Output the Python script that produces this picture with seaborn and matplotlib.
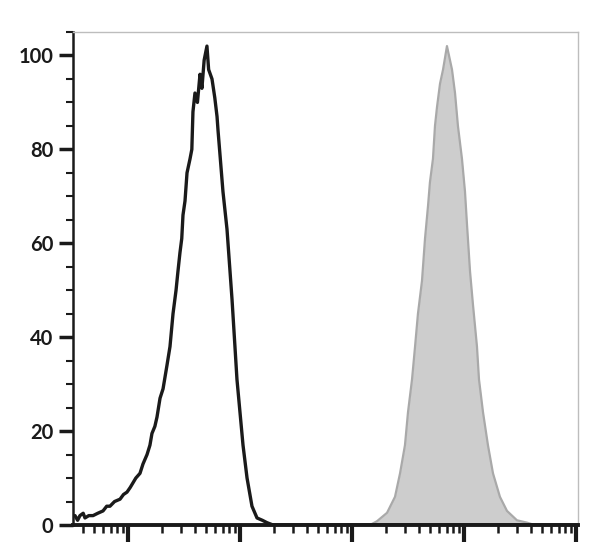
import matplotlib
matplotlib.use("Agg")
import matplotlib.pyplot as plt
import matplotlib.ticker as mticker
import numpy as np
import pandas as pd
import seaborn as sns

# log10 fluorescence positions and % of max
black_log = [0.527, 0.55, 0.571, 0.60, 0.616, 0.65, 0.688, 0.73, 0.777, 0.81,
             0.839, 0.88, 0.929, 0.96, 0.991, 1.02, 1.045, 1.07, 1.107, 1.134,
             1.17, 1.196, 1.214, 1.24, 1.259, 1.286, 1.313, 1.348, 1.375, 1.402,
             1.429, 1.446, 1.464, 1.48, 1.491, 1.509, 1.527, 1.554, 1.57, 1.58,
             1.598, 1.62, 1.643, 1.66, 1.68, 1.705, 1.72, 1.75, 1.775, 1.795,
             1.804, 1.821, 1.848, 1.884, 1.911, 1.929, 1.955, 1.973, 2.0, 2.027,
             2.063, 2.107, 2.152, 2.2, 2.241, 2.295, 5.02]
black_pct = [2, 1, 2, 2.5, 1.5, 2, 2, 2.5, 3, 4,
             4, 5, 5.5, 6.5, 7, 8, 9, 10, 11, 13,
             15, 17, 19.5, 21, 23, 27, 29, 34, 38, 45,
             50, 54, 58, 61, 66, 69, 75, 78, 80, 88,
             92, 90, 96, 93, 99, 102, 97, 95, 91, 87,
             84, 79, 71, 63, 54, 48, 38, 31, 24, 17,
             10, 4, 1.5, 1, 0.5, 0, 0]

gray_log = [3.10, 3.161, 3.223, 3.313, 3.384, 3.429, 3.473, 3.5, 3.536, 3.563,
            3.589, 3.625, 3.652, 3.679, 3.696, 3.723, 3.741, 3.759, 3.786, 3.813,
            3.848, 3.893, 3.92, 3.946, 3.982, 4.009, 4.027, 4.054, 4.08, 4.116,
            4.134, 4.17, 4.214, 4.259, 4.321, 4.384, 4.473, 4.563, 4.63]
gray_pct = [0, 0, 0.8, 2.6, 6, 11, 17, 24, 31, 38,
            45, 52, 61, 68, 73, 78, 85, 89, 94, 97,
            102, 97, 92, 85, 78, 71, 64, 54, 47, 38,
            31, 24, 17, 11, 6, 3, 1, 0.5, 0]

black = pd.DataFrame({"fl": np.power(10.0, black_log), "pct": black_pct})
gray = pd.DataFrame({"fl": np.power(10.0, gray_log), "pct": gray_pct})

sns.set_style("ticks")
plt.rcParams["font.family"] = ["Lato", "DejaVu Sans"]

fig = plt.figure(figsize=(6.08, 5.45), dpi=100)
ax = fig.add_axes([73 / 608, 20 / 545, 505 / 608, 493 / 545])

ax.fill_between(gray["fl"], gray["pct"], color="#cdcdcd", lw=0, zorder=1)
sns.lineplot(data=gray, x="fl", y="pct", color="#a9a9a9", lw=1.6,
             ax=ax, estimator=None, sort=False, zorder=2)
sns.lineplot(data=black, x="fl", y="pct", color="#1a1a1a", lw=2.4,
             ax=ax, estimator=None, sort=False, zorder=3)

ax.set_xscale("log")
ax.set_xlim(10 ** 0.509, 10 ** 5.018)
ax.set_ylim(0, 105)

ax.set_yticks([0, 20, 40, 60, 80, 100])
ax.yaxis.set_minor_locator(mticker.MultipleLocator(5))
ax.xaxis.set_major_locator(mticker.FixedLocator([10, 100, 1000, 10000, 100000]))
ax.xaxis.set_minor_locator(mticker.LogLocator(base=10, subs=np.arange(2, 10)))
ax.xaxis.set_major_formatter(mticker.NullFormatter())
ax.xaxis.set_minor_formatter(mticker.NullFormatter())

ax.tick_params(axis="y", which="major", length=10, width=2.5, color="#1a1a1a",
               labelsize=14.5, labelcolor="#1a1a1a", pad=4)
ax.tick_params(axis="y", which="minor", length=5, width=1.5, color="#1a1a1a")
ax.tick_params(axis="x", which="major", length=12, width=3, color="#1a1a1a")
ax.tick_params(axis="x", which="minor", length=6, width=1.8, color="#1a1a1a")

ax.spines["left"].set_linewidth(1.8)
ax.spines["left"].set_color("#1a1a1a")
ax.spines["bottom"].set_linewidth(2.8)
ax.spines["bottom"].set_color("#1a1a1a")
for side in ("top", "right"):
    ax.spines[side].set_visible(True)
    ax.spines[side].set_color("#bdbdbd")
    ax.spines[side].set_linewidth(1.0)

ax.set_xlabel("")
ax.set_ylabel("")
for lbl in ax.get_yticklabels():
    lbl.set_fontweight("bold")

fig.savefig("out.png", dpi=100)
